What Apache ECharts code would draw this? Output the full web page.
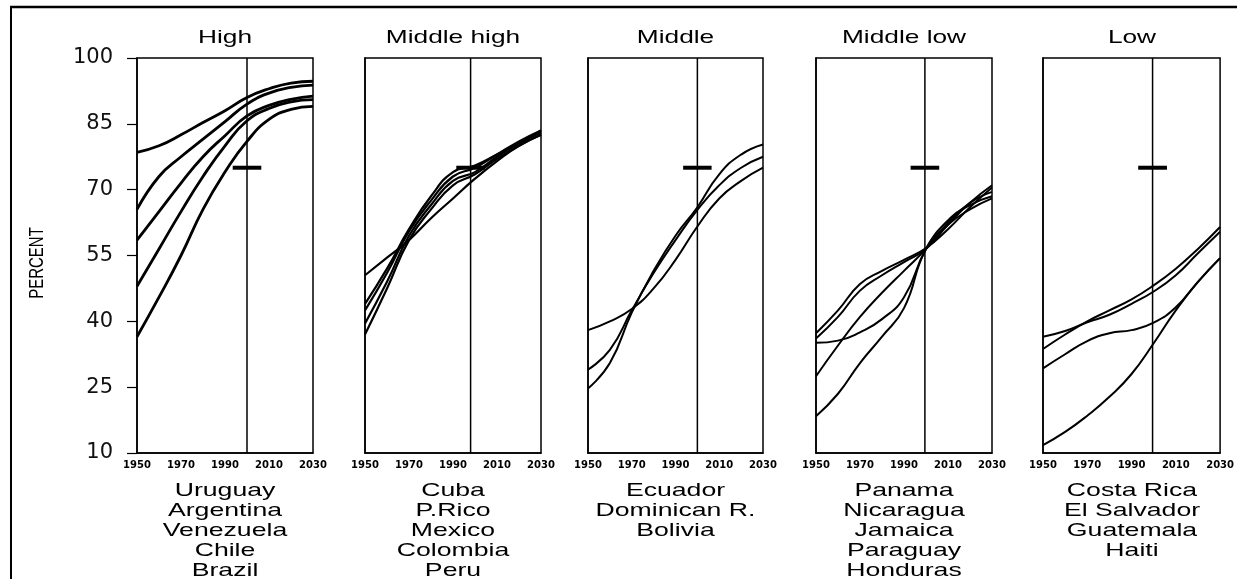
<!DOCTYPE html>
<html><head><meta charset="utf-8">
<script src="https://cdn.jsdelivr.net/npm/echarts@6/dist/echarts.min.js"></script>
<style>html,body{margin:0;padding:0;background:#fff}#c{width:1237px;height:579px}</style>
</head><body><div id="c"></div>
<script>
// ---- data ----
const years = [1950, 1960, 1970, 1980, 1990, 2000, 2010, 2020, 2030];
const groupNames = ['High', 'Middle high', 'Middle', 'Middle low', 'Low'];
const yTicks = { min: 10, max: 100, step: 15 };
const xTicks = { min: 1950, max: 2030, step: 20 };
const refYears = [2000, 1998, 2000, 1999.5, 1999.5];
const targetLevel = 75;
const targetHalfSpan = 6.5;

// High
const uruguay    = [78.5, 80.0, 82.5, 85.3, 88.0, 91.0, 93.0, 94.3, 94.7];
const argentina  = [65.5, 73.0, 77.5, 81.5, 85.5, 89.5, 92.0, 93.3, 93.8];
const venezuela  = [48.0, 56.5, 65.0, 73.0, 80.0, 85.7, 88.5, 90.0, 90.5];
const chile      = [58.5, 65.0, 71.5, 77.5, 82.3, 86.8, 89.2, 90.6, 91.3];
const brazil     = [36.5, 45.5, 55.0, 65.5, 74.0, 81.0, 86.0, 88.3, 89.0];
// Middle high
const cuba       = [50.5, 54.5, 58.5, 63.5, 68.0, 72.5, 76.5, 80.0, 82.5];
const pRico      = [44.0, 52.0, 61.0, 68.5, 74.0, 75.5, 78.0, 80.5, 83.5];
const mexico     = [42.5, 51.0, 60.5, 67.5, 73.0, 75.0, 78.0, 81.0, 83.5];
const colombia   = [39.5, 49.0, 59.5, 66.5, 72.0, 74.0, 77.5, 80.5, 83.0];
const peru       = [37.0, 47.5, 58.5, 65.5, 71.0, 73.5, 77.0, 80.0, 82.5];
// Middle
const ecuador    = [29.0, 33.5, 42.5, 51.0, 58.5, 65.4, 71.0, 75.0, 77.5];
const dominicanR = [24.7, 30.5, 42.0, 51.5, 59.5, 66.0, 73.5, 78.0, 80.3];
const bolivia    = [38.0, 40.0, 42.8, 47.5, 54.0, 61.6, 68.0, 72.0, 75.0];
// Middle low
const panama     = [37.3, 42.5, 48.5, 51.5, 54.0, 56.7, 61.0, 66.0, 70.5];
const nicaragua  = [36.1, 41.0, 47.0, 50.5, 53.5, 56.5, 62.0, 67.0, 71.0];
const jamaica    = [27.5, 34.5, 41.0, 46.5, 51.5, 56.5, 62.5, 67.0, 69.5];
const paraguay   = [35.1, 35.6, 37.5, 40.5, 45.5, 56.5, 63.0, 66.5, 68.5];
const honduras   = [18.4, 23.5, 30.5, 36.5, 43.0, 56.5, 62.0, 65.5, 68.0];
// Low
const costaRica  = [33.7, 37.0, 40.0, 42.5, 45.0, 48.2, 52.0, 56.5, 61.5];
const elSalvador = [36.5, 37.8, 39.8, 41.5, 44.0, 46.8, 50.5, 55.5, 60.4];
const guatemala  = [29.3, 32.5, 35.5, 37.3, 38.0, 39.7, 43.2, 49.0, 54.4];
const haiti      = [11.8, 14.8, 18.5, 22.8, 28.0, 35.0, 42.5, 49.0, 54.4];

const panelCountries = [
  ['Uruguay', 'Argentina', 'Venezuela', 'Chile', 'Brazil'],
  ['Cuba', 'P.Rico', 'Mexico', 'Colombia', 'Peru'],
  ['Ecuador', 'Dominican R.', 'Bolivia'],
  ['Panama', 'Nicaragua', 'Jamaica', 'Paraguay', 'Honduras'],
  ['Costa Rica', 'El Salvador', 'Guatemala', 'Haiti']
];
const panelSeries = [
  [uruguay, argentina, venezuela, chile, brazil],
  [cuba, pRico, mexico, colombia, peru],
  [ecuador, dominicanR, bolivia],
  [panama, nicaragua, jamaica, paraguay, honduras],
  [costaRica, elSalvador, guatemala, haiti]
];

// ---- layout ----
const boxes = [[137, 176], [365, 176], [588, 175], [816, 176], [1043, 178]];
const gridTop = 58, gridH = 395;
const lineWidths = [2.8, 2.2, 2.0, 2.0, 2.0];

const chart = echarts.init(document.getElementById('c'));
const grids = [], xAxes = [], yAxes = [], series = [], graphics = [];

boxes.forEach((b, i) => {
  grids.push({ left: b[0], top: gridTop, width: b[1], height: gridH, show: true,
    borderColor: '#000', borderWidth: 1.5, backgroundColor: 'transparent', containLabel: false });
  xAxes.push({ gridIndex: i, type: 'value', min: xTicks.min, max: xTicks.max, interval: xTicks.step,
    axisLine: { show: true, lineStyle: { color: '#000', width: 1.5 } },
    axisTick: { show: false }, splitLine: { show: false },
    axisLabel: { color: '#000', fontFamily: 'DejaVu Sans', fontWeight: 'bold', fontSize: 10, margin: 7,
      formatter: v => String(v) } });
  yAxes.push({ gridIndex: i, type: 'value', min: yTicks.min, max: yTicks.max, interval: yTicks.step,
    axisLine: { show: true, lineStyle: { color: '#000', width: 1.5 } },
    axisTick: { show: i === 0, length: 10, lineStyle: { color: '#000', width: 1.2 } },
    splitLine: { show: false },
    axisLabel: { show: i === 0, color: '#111', fontFamily: 'DejaVu Sans', fontSize: 21, margin: 24 } });

  panelSeries[i].forEach((vals, k) => {
    series.push({ type: 'line', name: panelCountries[i][k], xAxisIndex: i, yAxisIndex: i,
      data: years.map((y, j) => [y, vals[j]]), smooth: 0.5,
      symbol: 'none', silent: true, lineStyle: { color: '#000', width: lineWidths[i] } });
  });
  // reference year vertical line
  series.push({ type: 'line', xAxisIndex: i, yAxisIndex: i, symbol: 'none', silent: true,
    data: [[refYears[i], yTicks.min], [refYears[i], yTicks.max]],
    lineStyle: { color: '#000', width: 1.5 } });
  // 75% target bar
  series.push({ type: 'line', xAxisIndex: i, yAxisIndex: i, symbol: 'none', silent: true,
    data: [[refYears[i] - targetHalfSpan, targetLevel], [refYears[i] + targetHalfSpan, targetLevel]],
    lineStyle: { color: '#000', width: 4 } });

  const cx = b[0] + b[1] / 2;
  graphics.push({ type: 'text', x: cx, y: 38, scaleX: 1.42,
    style: { text: groupNames[i], align: 'center', verticalAlign: 'middle',
      font: '18.5px "Liberation Sans", Arial, sans-serif', fill: '#000' } });
  graphics.push({ type: 'text', x: cx, y: 480.5, scaleX: 1.44,
    style: { text: panelCountries[i].join('\n'), align: 'center', verticalAlign: 'top',
      lineHeight: 20, font: '18.5px "Liberation Sans", Arial, sans-serif', fill: '#000' } });
});

graphics.push({ type: 'text', x: 37, y: 263, rotation: Math.PI / 2, scaleY: 1.4,
  style: { text: 'PERCENT', align: 'center', verticalAlign: 'middle',
    font: '15px "Liberation Sans", Arial, sans-serif', fill: '#000' } });
// outer frame
graphics.push({ type: 'line', shape: { x1: 10, y1: 7, x2: 1237, y2: 7 }, style: { stroke: '#000', lineWidth: 2.5 } });
graphics.push({ type: 'line', shape: { x1: 11, y1: 6, x2: 11, y2: 579 }, style: { stroke: '#000', lineWidth: 2 } });

chart.setOption({
  backgroundColor: '#fff', animation: false,
  grid: grids, xAxis: xAxes, yAxis: yAxes, series: series, graphic: graphics
});
</script></body></html>
